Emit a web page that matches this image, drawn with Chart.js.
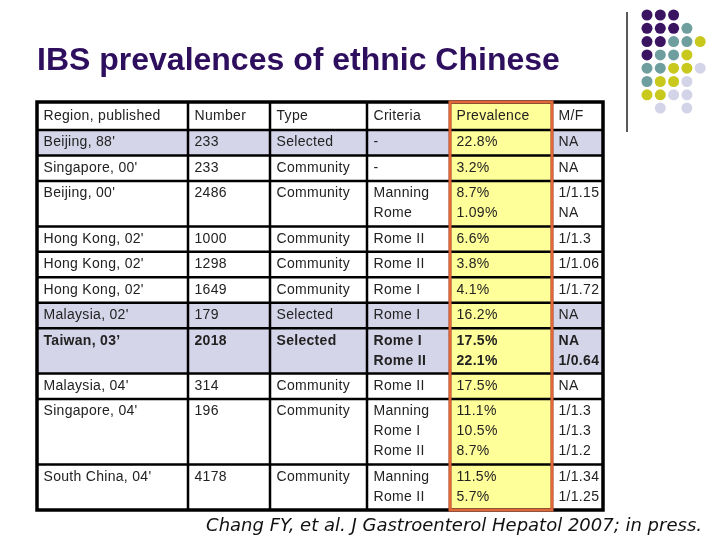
<!DOCTYPE html>
<html>
<head>
<meta charset="utf-8">
<script src="https://cdn.jsdelivr.net/npm/chart.js@4"></script>
<style>
    body { margin: 0; background: #ffffff; }
    #wrap { width: 720px; height: 540px; }
</style>
</head>
<body>
<div id="wrap"><canvas id="table_chart" width="720" height="540"></canvas></div>
<script>
// table content
const headers = ["Region, published", "Number", "Type", "Criteria", "Prevalence", "M/F"];
const regions = ["Beijing, 88'", "Singapore, 00'", "Beijing, 00'", "Hong Kong, 02'", "Hong Kong, 02'",
    "Hong Kong, 02'", "Malaysia, 02'", "Taiwan, 03\u2019", "Malaysia, 04'", "Singapore, 04'", "South China, 04'"];
const numbers = [233, 233, 2486, 1000, 1298, 1649, 179, 2018, 314, 196, 4178];
const types = ["Selected", "Community", "Community", "Community", "Community", "Community",
    "Selected", "Selected", "Community", "Community", "Community"];
const criteria = [["-"], ["-"], ["Manning", "Rome"], ["Rome II"], ["Rome II"], ["Rome I"], ["Rome I"],
    ["Rome I", "Rome II"], ["Rome II"], ["Manning", "Rome I", "Rome II"], ["Manning", "Rome II"]];
const prevalence = [["22.8%"], ["3.2%"], ["8.7%", "1.09%"], ["6.6%"], ["3.8%"], ["4.1%"], ["16.2%"],
    ["17.5%", "22.1%"], ["17.5%"], ["11.1%", "10.5%", "8.7%"], ["11.5%", "5.7%"]];
const mfRatio = [["NA"], ["NA"], ["1/1.15", "NA"], ["1/1.3"], ["1/1.06"], ["1/1.72"], ["NA"],
    ["NA", "1/0.64"], ["NA"], ["1/1.3", "1/1.3", "1/1.2"], ["1/1.34", "1/1.25"]];

// layout / style
const colWidths = [151, 82, 97, 83, 102, 51];
const headerHeight = 28;
const lineStep = 20;
const rowPad = 5.4;
const shadedRows = [0, 6, 7];
const boldRows = [7];
const highlightCol = 4;
const dotPattern = ["PPP..", "PPPT.", "PPTTY", "PTTY.", "TTYYL", "TYYL.", "YYLL.", ".L.L."];
const dotColors = { P: "#3a1460", T: "#6f9e9e", Y: "#c9c81c", L: "#d4d4e8" };

const tableRows = regions.map((r, i) => [[r], [String(numbers[i])], [types[i]], criteria[i], prevalence[i], mfRatio[i]]);
const rowLines = tableRows.map(row => Math.max(...row.map(c => c.length)));
const rowEdges = [0, headerHeight];
rowLines.forEach(n => rowEdges.push(rowEdges[rowEdges.length - 1] + n * lineStep + rowPad));
const colEdges = [0];
colWidths.forEach(w => colEdges.push(colEdges[colEdges.length - 1] + w));
const tableWidth = colEdges[colEdges.length - 1];
const tableHeight = rowEdges[rowEdges.length - 1];

const tablePlugin = {
    id: "table",
    afterDraw(chart) {
        const ctx = chart.ctx;
        const X = v => chart.scales.x.getPixelForValue(v);
        const Y = v => chart.scales.y.getPixelForValue(v);
        ctx.save();
        // backgrounds
        shadedRows.forEach(r => {
            ctx.fillStyle = "#d5d5ea";
            ctx.fillRect(X(0), Y(rowEdges[r + 1]), X(tableWidth) - X(0), Y(rowEdges[r + 2]) - Y(rowEdges[r + 1]));
        });
        ctx.fillStyle = "#ffff99";
        ctx.fillRect(X(colEdges[highlightCol]), Y(0), X(colEdges[highlightCol + 1]) - X(colEdges[highlightCol]), Y(tableHeight) - Y(0));
        // grid
        ctx.strokeStyle = "#000000";
        ctx.lineWidth = 2.5;
        ctx.beginPath();
        for (let i = 1; i < rowEdges.length - 1; i++) {
            ctx.moveTo(X(0), Y(rowEdges[i]));
            ctx.lineTo(X(tableWidth), Y(rowEdges[i]));
        }
        for (let i = 1; i < colEdges.length - 1; i++) {
            ctx.moveTo(X(colEdges[i]), Y(0));
            ctx.lineTo(X(colEdges[i]), Y(tableHeight));
        }
        ctx.stroke();
        ctx.lineWidth = 3.5;
        ctx.strokeRect(X(0), Y(0), X(tableWidth) - X(0), Y(tableHeight) - Y(0));
        ctx.strokeStyle = "#e0673a";
        ctx.lineWidth = 3;
        ctx.strokeRect(X(colEdges[highlightCol]), Y(0), X(colEdges[highlightCol + 1]) - X(colEdges[highlightCol]), Y(tableHeight) - Y(0));
        // text
        ctx.fillStyle = "#222222";
        ctx.textBaseline = "middle";
        ctx.textAlign = "left";
        ctx.letterSpacing = "0.3px";
        ctx.font = '14px "Liberation Sans"';
        headers.forEach((h, c) => ctx.fillText(h, X(colEdges[c]) + 6.5, Y(headerHeight / 2)));
        tableRows.forEach((row, r) => {
            ctx.font = (boldRows.includes(r) ? "bold " : "") + '14px "Liberation Sans"';
            row.forEach((cell, c) => {
                cell.forEach((txt, k) => {
                    ctx.fillText(txt, X(colEdges[c]) + 6.5, Y(rowEdges[r + 1] + 12.5 + k * lineStep));
                });
            });
        });
        ctx.restore();
    }
};

const decorPlugin = {
    id: "decor",
    afterDraw(chart) {
        const ctx = chart.ctx;
        ctx.save();
        ctx.strokeStyle = "#222222";
        ctx.lineWidth = 1.5;
        ctx.beginPath();
        ctx.moveTo(627, 12);
        ctx.lineTo(627, 132);
        ctx.stroke();
        dotPattern.forEach((line, r) => {
            [...line].forEach((ch, c) => {
                if (ch === ".") return;
                ctx.fillStyle = dotColors[ch];
                ctx.beginPath();
                ctx.arc(647 + c * 13.3, 15 + r * 13.3, 5.5, 0, Math.PI * 2);
                ctx.fill();
            });
        });
        ctx.restore();
    }
};

new Chart(document.getElementById("table_chart"), {
    type: "scatter",
    data: { datasets: [] },
    options: {
        responsive: false,
        animation: false,
        layout: { padding: { left: 37, right: 18, top: 0, bottom: 0 } },
        scales: {
            x: { display: false, min: 0, max: tableWidth + 99 },
            y: { display: false, min: 0, max: tableHeight, reverse: true }
        },
        plugins: {
            legend: { display: false },
            tooltip: { enabled: false },
            title: {
                display: true,
                text: "IBS prevalences of ethnic Chinese",
                align: "start",
                color: "#2e0f5e",
                font: { family: "Liberation Sans", size: 32, weight: "bold" },
                padding: { top: 42, bottom: 21.6 }
            },
            subtitle: {
                display: true,
                position: "bottom",
                text: "Chang FY, et al. J Gastroenterol Hepatol 2007; in press.",
                align: "end",
                color: "#111111",
                font: { family: "DejaVu Sans", size: 18, style: "italic" },
                padding: { top: 5.2, bottom: 3.2 }
            }
        }
    },
    plugins: [tablePlugin, decorPlugin]
});
</script>
</body>
</html>
